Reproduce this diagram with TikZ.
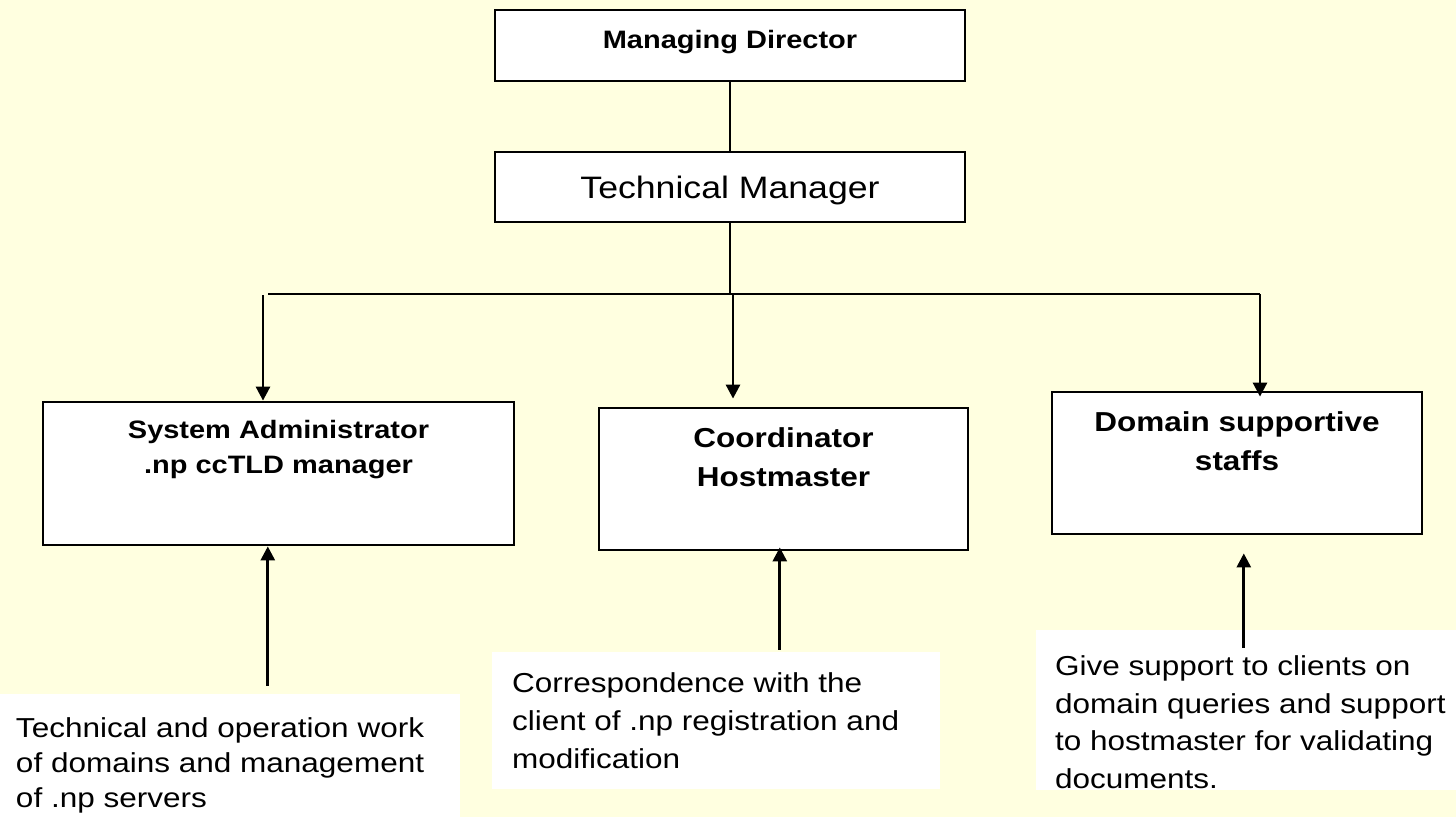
\documentclass[tikz,border=0pt]{standalone}
\usepackage{fontspec}
\setmainfont{Liberation Sans}[FakeStretch=1.15]
\usetikzlibrary{arrows.meta}
\definecolor{slidebg}{RGB}{255,255,224}

\begin{document}
\begin{tikzpicture}[x=1pt,y=-1pt,
	every node/.style={inner sep=0pt},
	rolebox/.style={draw, line width=2.8pt, fill=white},
	notebox/.style={fill=white},
	roletext/.style={font=\bfseries\fontsize{25.2}{35}\selectfont, align=center, anchor=north},
	bigtext/.style={font=\bfseries\fontsize{27.4}{38.5}\selectfont, align=center, anchor=north},
	titletext/.style={font=\fontsize{31}{36}\selectfont, anchor=north},
	notetext/.style={font=\fontsize{27.4}{38}\selectfont, align=left, anchor=north west},
	link/.style={line width=2.8pt},
	arrow/.style={link, -{Triangle[width=14pt,length=14pt]}}]
	\fill [slidebg] (0,0) rectangle (1456,817);
	\useasboundingbox (0,0) rectangle (1456,817);
	% boxes
	\node [rolebox, minimum width=470pt, minimum height=71pt] (md) at (730,45.5) {};
	\node [rolebox, minimum width=470pt, minimum height=70pt] (tm) at (730,187) {};
	\node [rolebox, minimum width=471pt, minimum height=143pt] (sysadm) at (278.5,473.5) {};
	\node [rolebox, minimum width=369pt, minimum height=142pt] (coord) at (783.5,479) {};
	\node [rolebox, minimum width=370pt, minimum height=142pt] (dss) at (1237,463) {};
	\node [roletext] (mdtext) at ([yshift=-21pt]md.north) {Managing Director};
	\node [titletext] (tmtext) at ([yshift=-25pt]tm.north) {Technical Manager};
	\node [roletext] (sysadmtext) at ([yshift=-19pt]sysadm.north) {System Administrator\\.np ccTLD manager};
	\node [bigtext] (coordtext) at ([yshift=-21pt]coord.north) {Coordinator\\Hostmaster};
	\node [bigtext] (dsstext) at ([yshift=-21pt]dss.north) {Domain supportive\\staffs};
	% notes
	\node [notebox, minimum width=460pt, minimum height=123pt] (sysnote) at (230,755.5) {};
	\node [notebox, minimum width=448pt, minimum height=137pt] (coordnote) at (716,720.5) {};
	\node [notebox, minimum width=420pt, minimum height=160pt] (dssnote) at (1246,710) {};
	\node [notetext, font=\fontsize{27.4}{35}\selectfont] (sysnotetext) at ([xshift=16pt,yshift=-24pt]sysnote.north west) {Technical and operation work\\of domains and management\\of .np servers};
	\node [notetext] (coordnotetext) at ([xshift=20pt,yshift=-21pt]coordnote.north west) {Correspondence with the\\client of .np registration and\\modification};
	\node [notetext, font=\fontsize{27.4}{37.5}\selectfont] (dssnotetext) at ([xshift=19pt,yshift=-26pt]dssnote.north west) {Give support to clients on\\domain queries and support\\to hostmaster for validating\\documents.};
	% connectors
	\coordinate (busL) at (268,294);
	\coordinate (dropL) at (263,295);
	\coordinate (busM) at (733,294);
	\coordinate (busR) at (1260,294);
	\draw [link] (md) -- (tm);
	\draw [link] (tm.south) -- (tm.south |- busL);
	\draw [link] (busL) -- (busR);
	\draw [arrow] (dropL) -- (dropL |- sysadm.north);
	\draw [arrow, shorten >=8pt] (busM) -- (busM |- coord.north);
	\draw [arrow, shorten >=-6pt] (busR) -- (busR |- dss.north);
	\coordinate (upL) at ([xshift=268pt,yshift=8pt]sysnote.north west);
	\coordinate (upM) at ([xshift=288pt,yshift=2pt]coordnote.north west);
	\coordinate (upR) at ([xshift=208pt,yshift=-18pt]dssnote.north west);
	\draw [arrow] (upL) -- (upL |- sysadm.south);
	\draw [arrow, shorten >=-4pt] (upM) -- (upM |- coord.south);
	\draw [arrow, shorten >=18pt] (upR) -- (upR |- dss.south);
\end{tikzpicture}
\end{document}
